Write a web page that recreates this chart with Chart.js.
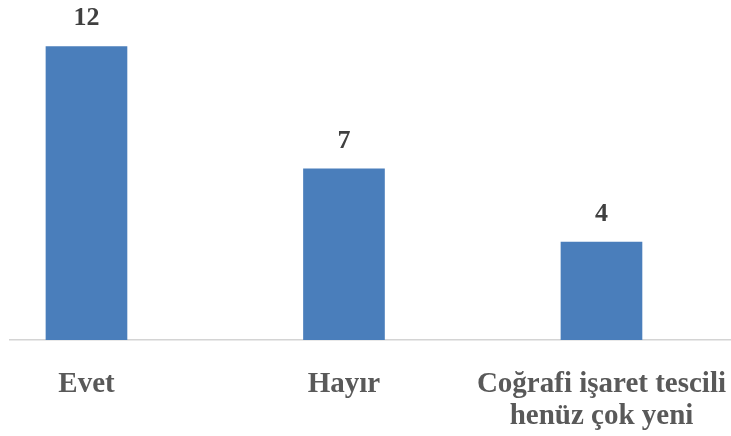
<!DOCTYPE html>
<html lang="tr">
<head>
    <meta charset="UTF-8">
    <title>Coğrafi işaret</title>
    <script src="https://cdn.jsdelivr.net/npm/chart.js"></script>
    <style>
        html, body { margin: 0; padding: 0; background: #fff; overflow: hidden; }
        #wrap { width: 731px; height: 461px; }
    </style>
</head>
<body>
    <div id="wrap"><canvas id="chart"></canvas></div>

    <script>
        // cevaplar ve sayıları
        const categories = [
            ["Evet"],
            ["Hayır"],
            ["Coğrafi işaret tescili", "henüz çok yeni"]
        ];
        const counts = [12, 7, 4];

        const serif = "'Liberation Serif', 'Times New Roman', serif";

        // çubukların üstüne değerleri yaz
        const valueLabels = {
            id: "valueLabels",
            afterDatasetsDraw(chart) {
                const ctx = chart.ctx;
                const meta = chart.getDatasetMeta(0);
                ctx.save();
                ctx.font = "bold 26px " + serif;
                ctx.fillStyle = "#404040";
                ctx.textAlign = "center";
                ctx.textBaseline = "alphabetic";
                meta.data.forEach((bar, i) => {
                    ctx.fillText(String(counts[i]), bar.x, bar.y - 21);
                });
                ctx.restore();
            }
        };

        let ctx = document.getElementById("chart").getContext("2d");
        let chart = new Chart(ctx, {
            type: "bar",
            data: {
                datasets: [{
                    data: counts.map((v, i) => ({ x: i, y: v })),
                    backgroundColor: "#4a7ebb",
                    barThickness: 81,
                    borderWidth: 0
                }]
            },
            options: {
                responsive: true,
                maintainAspectRatio: false,
                animation: false,
                layout: { padding: { left: 10, right: 0, top: 0, bottom: 0 } },
                plugins: { legend: { display: false }, tooltip: { enabled: false } },
                scales: {
                    x: {
                        type: "linear",
                        offset: false,
                        min: -0.297,
                        max: 2.503,
                        afterBuildTicks: s => { s.ticks = categories.map((c, i) => ({ value: i })); },
                        // etiketler eksenin içinde kalıyor, kenar boşluğu gerekmez
                        afterFit: s => { s.paddingLeft = 0; s.paddingRight = 0; },
                        grid: { display: false, drawTicks: false, offset: false },
                        border: { display: true, color: "#d4d4d4", width: 1.5 },
                        ticks: {
                            autoSkip: false,
                            maxRotation: 0,
                            padding: 28,
                            color: "#595959",
                            font: { family: serif, size: 29, weight: "bold", lineHeight: 1.12 },
                            callback: v => categories[v]
                        }
                    },
                    y: {
                        display: false,
                        min: 0,
                        max: 13.9
                    }
                }
            },
            plugins: [valueLabels]
        });
    </script>
</body>
</html>
